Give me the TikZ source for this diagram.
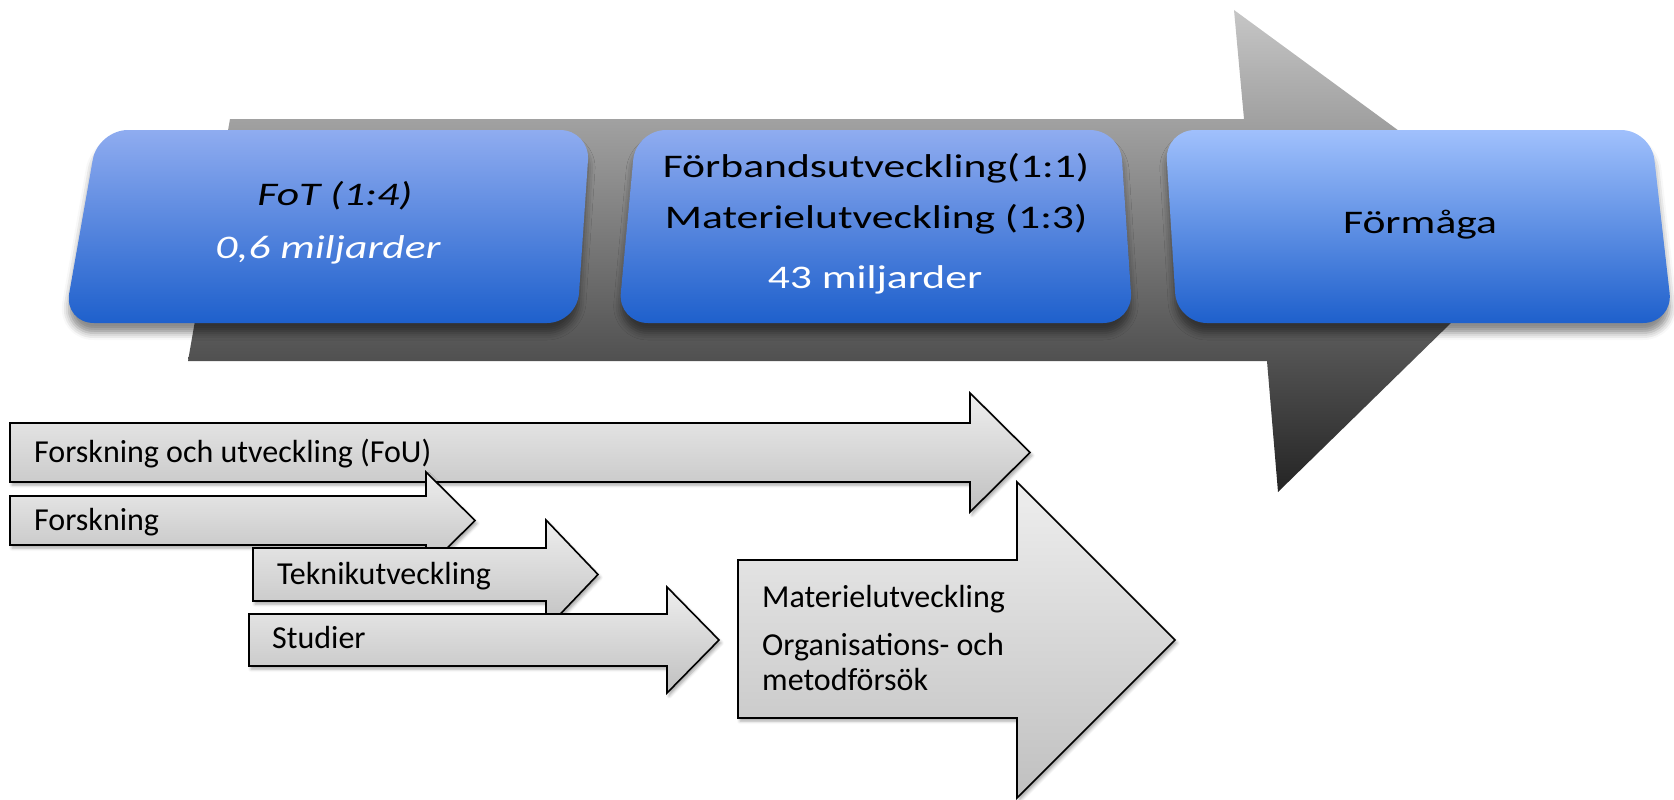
\documentclass[tikz,border=0pt]{standalone}
\usepackage{fontspec}
\setmainfont{Carlito}
\usepackage{graphicx}
\usetikzlibrary{shadows.blur}

% stage boxes on the main arrow
\definecolor{stagetop}{RGB}{143,172,240}
\definecolor{stagemid}{RGB}{100,140,226}
\definecolor{stagebot}{RGB}{30,96,204}
% main grey arrow
\definecolor{maintop}{RGB}{198,198,198}
\definecolor{mainmid}{RGB}{122,122,122}
\definecolor{mainbot}{RGB}{36,36,36}
% activity arrows
\definecolor{phasetop}{RGB}{238,238,238}
\definecolor{phasebot}{RGB}{192,192,192}

\newcommand{\wide}[1]{\scalebox{1.32}[1]{#1}}

\begin{document}
\begin{tikzpicture}[x=1pt,y=-1pt,
  mainarrow/.style={top color=maintop, middle color=mainmid, bottom color=mainbot},
  stage/.style={rounded corners=30pt, top color=stagetop, middle color=stagemid,
    bottom color=stagebot,
    blur shadow={shadow xshift=0pt, shadow yshift=-10pt, shadow blur radius=7pt, shadow opacity=45}},
  phase/.style={draw=black, line width=1.6pt, line join=miter, top color=phasetop,
    bottom color=phasebot,
    blur shadow={shadow xshift=2pt, shadow yshift=-3pt, shadow blur radius=3pt, shadow opacity=35}},
  stagetext/.style={font=\fontsize{33}{39}\selectfont, inner sep=0pt, anchor=base},
  phasetext/.style={font=\fontsize{32}{38}\selectfont, inner sep=0pt, anchor=base west},
]
\useasboundingbox (0,0) rectangle (1674,800);

% main arrow
\path[mainarrow] (230,119) -- (1244,119) -- (1234,10) -- (1541,235) -- (1278,492)
  -- (1267,361) -- (188,361) -- cycle;

% stage boxes
\path[stage] (98,130) -- (590,130) -- (577,323) -- (64,323) -- cycle;
\path[stage] (636,130) -- (1120,130) -- (1133,323) -- (618,323) -- cycle;
\path[stage, top color={rgb,255:red,160;green,192;blue,252}]
  (1165,130) -- (1651,130) -- (1673,323) -- (1177,323) -- cycle;

% stage texts
\node[stagetext] (fot) at (335,205) {\wide{\itshape FoT (1:4)}};
\node[stagetext, text=white] (fotsum) at (328,258) {\wide{\itshape 0,6 miljarder}};
\node[stagetext] (forb) at (876,177) {\wide{Förbandsutveckling(1:1)}};
\node[stagetext] (mat) at (876,228) {\wide{Materielutveckling (1:3)}};
\node[stagetext, text=white] (matsum) at (875,288) {\wide{43 miljarder}};
\node[stagetext] (formaga) at (1420,233) {\wide{Förmåga}};

% activity arrows, back to front
\path[phase] (10,423) -- (970,423) -- (970,393) -- (1030,452.5) -- (970,512)
  -- (970,482) -- (10,482) -- cycle;
\node[phasetext] (fou) at (34,462) {Forskning och utveckling (FoU)};

\path[phase] (10,496) -- (426,496) -- (426,472) -- (475,520.5) -- (426,569)
  -- (426,545) -- (10,545) -- cycle;
\node[phasetext] (forsk) at (34,530) {Forskning};

\path[phase] (253,548) -- (546,548) -- (546,520) -- (598,574.5) -- (546,629)
  -- (546,601) -- (253,601) -- cycle;
\node[phasetext] (teknik) at (277,584) {Teknikutveckling};

\path[phase] (249,614) -- (667,614) -- (667,587) -- (719,640) -- (667,693)
  -- (667,666) -- (249,666) -- cycle;
\node[phasetext] (studier) at (272,648) {Studier};

\path[phase] (738,560) -- (1017,560) -- (1017,482) -- (1175,640) -- (1017,798)
  -- (1017,718) -- (738,718) -- cycle;
\node[phasetext] (matutv) at (762,607) {Materielutveckling};
\node[phasetext] (org) at (762,655) {Organisations- och};
\node[phasetext] (metod) at (762,690) {metodförsök};
\end{tikzpicture}
\end{document}
